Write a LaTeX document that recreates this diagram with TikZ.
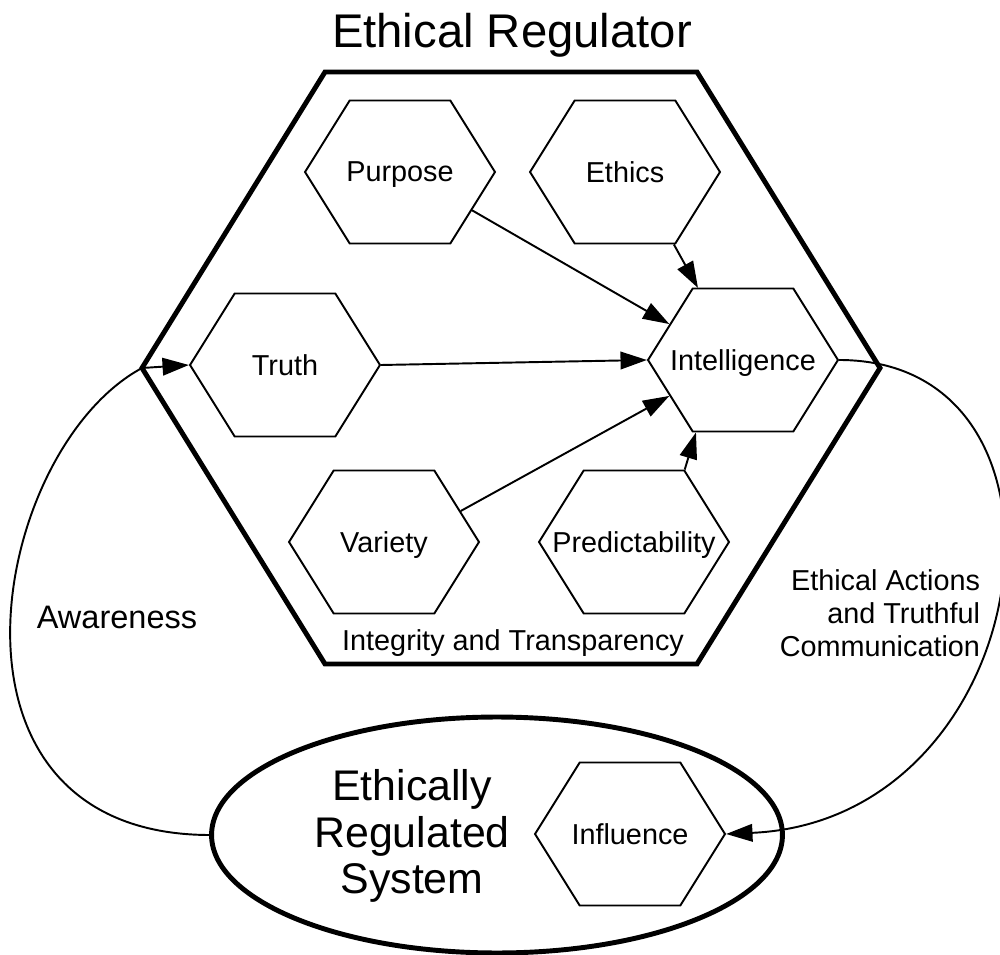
\documentclass[tikz,border=0pt]{standalone}
\usepackage{fontspec}
\setmainfont{Liberation Sans}
\usetikzlibrary{shapes.symbols,shapes.geometric,arrows.meta}
\begin{document}
\begin{tikzpicture}[x=0.02cm, y=-0.02cm, every node/.style={font=\fontsize{16.4}{18.7}\selectfont}, line width=1.1pt,
  every label/.style={text depth=0pt},
  hexa/.style={draw, signal, signal from=nowhere, signal to=east and west, signal pointer angle=116, minimum width=3.8cm, minimum height=2.86cm, inner sep=0pt},
  arr/.style={-{Triangle[length=15pt,width=10pt]}}]
  \useasboundingbox (0,0) rectangle (1000,955);
  \node[font=\fontsize{26.9}{30}\selectfont] (title) at (512,35) {Ethical Regulator};
  \coordinate (hl) at (142,368);
  \coordinate (hr) at (880,368);
  \draw[line width=2.8pt, line join=miter] (325,72) -- (697,72) -- (hr) -- (697,664) -- (325,664) -- (hl) -- cycle;
  \foreach \n/\x/\y/\t in {purpose/400/172/Purpose, ethics/625/172/Ethics, intel/743/360/Intelligence, truth/285/365/Truth, variety/384/542/Variety, predict/634/542/Predictability, influence/630/834/Influence}
    \node[hexa, label=center:\t] (\n) at (\x,\y) {};
  \draw[arr] (purpose.-28) -- (intel.154);
  \draw[arr] (ethics.-56) -- (intel.122);
  \draw[arr] (truth.east) -- (intel.west);
  \draw[arr] (variety.22) -- (intel.206);
  \draw[arr] (predict.55) -- (intel.237);
  \node (integrity) at (513,643) {Integrity and Transparency};
  \node[draw, ellipse, line width=2.8pt, minimum width=11.42cm, minimum height=4.72cm] (ellsys) at (497,835) {};
  \node[align=center, font=\fontsize{24.4}{26.6}\selectfont] (sysname) at (412,836) {Ethically\\Regulated\\System};
  \draw[arr] (ellsys.west) .. controls (-80,834) and (-10,450) .. (hl) -- (truth.west);
  \draw[arr] (intel.east) .. controls (1100,360) and (1040,820) .. (influence.east);
  \node[font=\fontsize{18.5}{20}\selectfont] (aware) at (117,617) {Awareness};
  \node[align=right, anchor=east, inner sep=0pt] (actions) at (981,613) {Ethical Actions\\and Truthful\\Communication};
\end{tikzpicture}
\end{document}
